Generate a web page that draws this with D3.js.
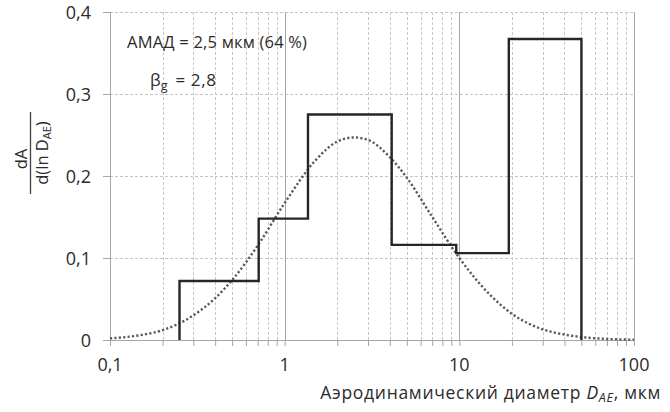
<!DOCTYPE html>
<html><head><meta charset="utf-8">
<script src="https://cdn.jsdelivr.net/npm/d3@7"></script>
<style>
body{margin:0;background:#fff;}
svg text{font-family:"Open Sans",sans-serif;fill:#2b2b2b;}
</style></head>
<body><svg id="c" width="670" height="412"></svg>
<script>
// Step histogram: bin edges (μm) and heights
const binEdges = [0.25, 0.71, 1.36, 4.1, 9.6, 19.2, 50];
const binValues = [0.072, 0.148, 0.275, 0.116, 0.106, 0.367];
// Dotted fitted curve
const curveD = [0.1, 0.15, 0.2, 0.3, 0.4, 0.5, 0.7, 1, 1.5, 2, 2.5, 3, 4, 5, 7, 10, 15, 20, 30, 40, 50, 70, 100];
const curveY = [0.002, 0.006, 0.012, 0.030, 0.051, 0.073, 0.115, 0.167, 0.219, 0.242, 0.247, 0.244, 0.223, 0.198, 0.150, 0.100, 0.055, 0.032, 0.013, 0.0066, 0.0036, 0.0013, 0.0004];
const xTickLabels = ["0,1", "1", "10", "100"];
const xTickValues = [0.1, 1, 10, 100];
const yTickValues = [0, 0.1, 0.2, 0.3, 0.4];
const yTickLabels = ["0", "0,1", "0,2", "0,3", "0,4"];

const svg = d3.select("#c");
const x = d3.scaleLog().domain([0.1, 100]).range([110, 634]);
const y = d3.scaleLinear().domain([0, 0.4]).range([340, 12]);

// minor ticks
const minor = [];
[0.1, 1, 10].forEach(b => { for (let k = 2; k <= 9; k++) minor.push(b * k); });

const g = svg.append("g");
// horizontal dashed gridlines
g.selectAll(".hg").data(yTickValues.slice(1)).enter().append("line")
  .attr("x1", x(0.1)).attr("x2", x(100))
  .attr("y1", d => Math.round(y(d)) + 0.5).attr("y2", d => Math.round(y(d)) + 0.5)
  .attr("stroke", "#c4c4c4").attr("stroke-width", 1).attr("stroke-dasharray", "3,2");
// minor vertical dashed gridlines
g.selectAll(".vg").data(minor).enter().append("line")
  .attr("x1", d => Math.round(x(d)) + 0.5).attr("x2", d => Math.round(x(d)) + 0.5)
  .attr("y1", y(0.4)).attr("y2", y(0))
  .attr("stroke", "#c8c8c8").attr("stroke-width", 1).attr("stroke-dasharray", "3,2");
// major vertical solid gridlines
g.selectAll(".vm").data([1, 10, 100]).enter().append("line")
  .attr("x1", d => Math.round(x(d)) + 0.5).attr("x2", d => Math.round(x(d)) + 0.5)
  .attr("y1", y(0.4)).attr("y2", y(0))
  .attr("stroke", "#a6a6a6").attr("stroke-width", 1);

// axes
const xAxis = d3.axisBottom(x).tickValues(xTickValues.concat(minor)).tickSize(6).tickFormat("");
const gx = svg.append("g").attr("transform", `translate(0,${y(0)})`).call(xAxis);
gx.select(".domain").attr("stroke", "#a6a6a6").attr("d", `M${x(0.1) - 7},0.5H${x(100)}`);
gx.selectAll(".tick line").attr("stroke", "#a6a6a6");
svg.append("g").selectAll("text").data(xTickValues).enter().append("text")
  .attr("x", d => x(d)).attr("y", 371).attr("text-anchor", "middle")
  .attr("font-size", 18).text((d, i) => xTickLabels[i]);

const yAxis = d3.axisLeft(y).tickValues(yTickValues).tickSize(7).tickFormat("");
const gy = svg.append("g").attr("transform", `translate(${x(0.1)},0)`).call(yAxis);
gy.select(".domain").attr("stroke", "#a6a6a6").attr("d", `M0.5,${y(0.4)}V${y(0) + 6}`);
gy.selectAll(".tick line").attr("stroke", "#a6a6a6");
svg.append("g").selectAll("text").data(yTickValues).enter().append("text")
  .attr("x", 91).attr("y", d => y(d) + 6.5).attr("text-anchor", "end")
  .attr("font-size", 18).text((d, i) => yTickLabels[i]);

// dotted curve
const cpts = curveD.map((d, i) => [d, curveY[i]]);
svg.append("path").datum(cpts)
  .attr("d", d3.line().x(d => x(d[0])).y(d => y(d[1])).curve(d3.curveMonotoneX))
  .attr("fill", "none").attr("stroke", "#5a5a5a").attr("stroke-width", 2.4)
  .attr("stroke-dasharray", "2.2,2.2");

// step histogram
const spts = [[binEdges[0], 0]];
binValues.forEach((v, i) => { spts.push([binEdges[i], v]); spts.push([binEdges[i + 1], v]); });
spts.push([binEdges[binEdges.length - 1], 0]);
svg.append("path").datum(spts)
  .attr("d", d3.line().x(d => x(d[0])).y(d => y(d[1])))
  .attr("fill", "none").attr("stroke", "#262626").attr("stroke-width", 2.4)
  .attr("stroke-linejoin", "miter");

// annotations
svg.append("text").attr("x", 127).attr("y", 48).attr("font-size", 16.5).attr("letter-spacing", 0.2)
  .text("АМАД = 2,5 мкм (64 %)");
const bt = svg.append("text").attr("x", 150).attr("y", 86).attr("font-size", 17);
bt.append("tspan").text("β");
bt.append("tspan").attr("font-size", 12.5).attr("dy", 4).text("g");
bt.append("tspan").attr("dy", -4).attr("dx", 3).attr("letter-spacing", 0.6).text(" = 2,8");

// y-axis label (fraction)
const yl = svg.append("g").attr("transform", "translate(0,153) rotate(-90)");
yl.append("text").attr("x", -6).attr("y", 27).attr("text-anchor", "middle").attr("font-size", 16.5).text("dA");
yl.append("line").attr("x1", -41).attr("x2", 41).attr("y1", 30.5).attr("y2", 30.5).attr("stroke", "#404040").attr("stroke-width", 1.3);
const yd = yl.append("text").attr("x", 0).attr("y", 48).attr("text-anchor", "middle").attr("font-size", 16.5);
yd.append("tspan").text("d(ln D");
yd.append("tspan").attr("font-size", 11).attr("dy", 3).text("AE");
yd.append("tspan").attr("dy", -3).text(")");

// x-axis title
const xt = svg.append("text").attr("x", 661).attr("y", 399).attr("text-anchor", "end").attr("font-size", 17.5).attr("letter-spacing", 0.7);
xt.append("tspan").text("Аэродинамический диаметр ");
xt.append("tspan").attr("font-style", "italic").text("D");
xt.append("tspan").attr("font-style", "italic").attr("font-size", 12.5).attr("dy", 3).text("AE");
xt.append("tspan").attr("dy", -3).text(", мкм");
</script></body></html>
